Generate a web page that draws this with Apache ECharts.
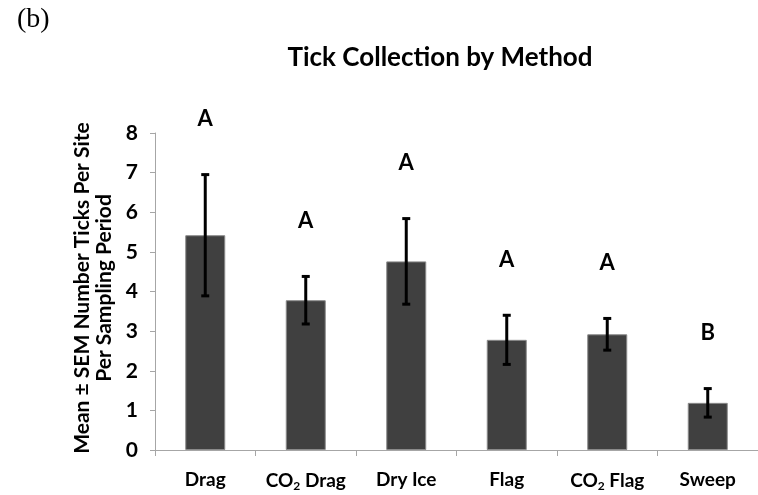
<!DOCTYPE html>
<html><head><meta charset="utf-8">
<script src="https://cdn.jsdelivr.net/npm/echarts@6/dist/echarts.min.js"></script>
<style>html,body{margin:0;padding:0;background:#fff}#c{width:758px;height:495px}</style>
</head><body><div id="c"></div>
<script>
const categories = ['Drag', 'CO2 Drag', 'Dry Ice', 'Flag', 'CO2 Flag', 'Sweep'];
const means = [5.42, 3.78, 4.76, 2.78, 2.92, 1.19];
const sem = [1.53, 0.60, 1.08, 0.62, 0.40, 0.36];
const letters = ['A', 'A', 'A', 'A', 'A', 'B'];
const yTicks = [0, 1, 2, 3, 4, 5, 6, 7, 8];

const F = 'Lato, "Open Sans", sans-serif';
const chart = echarts.init(document.getElementById('c'));

function catLabel(v) {
  if (v.indexOf('CO2') === 0) return '{n|CO}{s|2}{n|' + v.slice(3) + '}';
  return '{n|' + v + '}';
}

chart.setOption({
  animation: false,
  graphic: [
    {type: 'text', left: 17, top: 6, style: {text: '(b)', font: '28px "Liberation Serif", serif', fill: '#000'}},
    {type: 'text', x: 440, y: 58, style: {text: 'Tick Collection by Method', font: 'bold 26px ' + F, fill: '#000', textAlign: 'center', textVerticalAlign: 'middle'}},
    {type: 'text', x: 82, y: 288, rotation: Math.PI / 2, style: {text: 'Mean \u00b1 SEM Number Ticks Per Site', font: 'bold 21px ' + F, fill: '#000', textAlign: 'center', textVerticalAlign: 'middle'}},
    {type: 'text', x: 104, y: 288, rotation: Math.PI / 2, style: {text: 'Per Sampling Period', font: 'bold 21px ' + F, fill: '#000', textAlign: 'center', textVerticalAlign: 'middle'}}
  ],
  grid: {left: 155, top: 133, width: 610, height: 317},
  xAxis: {
    type: 'category', data: categories,
    axisLine: {lineStyle: {color: '#a6a6a6', width: 1}},
    axisTick: {show: true, length: 6, interval: 0, lineStyle: {color: '#a6a6a6'}},
    axisLabel: {
      interval: 0, margin: 20, formatter: catLabel,
      rich: {
        n: {fontFamily: F, fontWeight: 'bold', fontSize: 19, color: '#000'},
        s: {fontFamily: F, fontWeight: 'bold', fontSize: 12, color: '#000', verticalAlign: 'bottom', padding: [10, 0, 0, 0]}
      }
    }
  },
  yAxis: {
    type: 'value', min: 0, max: yTicks[yTicks.length - 1], interval: 1,
    axisLine: {show: true, lineStyle: {color: '#a6a6a6'}},
    axisTick: {show: true, length: 5, lineStyle: {color: '#a6a6a6'}},
    splitLine: {show: false},
    axisLabel: {fontFamily: F, fontWeight: 'bold', fontSize: 21, color: '#000', margin: 17}
  },
  series: [
    {
      type: 'bar', data: means, barWidth: 40,
      itemStyle: {color: '#404040', borderColor: '#8a8a8a', borderWidth: 1}
    },
    {
      type: 'custom',
      data: means.map((m, i) => [i, m - sem[i], m + sem[i]]),
      renderItem: function (params, api) {
        const lo = api.coord([api.value(0), api.value(1)]);
        const hi = api.coord([api.value(0), api.value(2)]);
        const x = lo[0], hw = 4;
        const st = {stroke: '#000', lineWidth: 3};
        return {type: 'group', children: [
          {type: 'line', shape: {x1: x, y1: lo[1], x2: x, y2: hi[1]}, style: st},
          {type: 'line', shape: {x1: x - hw, y1: lo[1], x2: x + hw, y2: lo[1]}, style: st},
          {type: 'line', shape: {x1: x - hw, y1: hi[1], x2: x + hw, y2: hi[1]}, style: st}
        ]};
      },
      z: 5
    },
    {
      type: 'custom', clip: false,
      data: means.map((m, i) => [i, m + sem[i] + 1.4]),
      renderItem: function (params, api) {
        const p = api.coord([api.value(0), api.value(1)]);
        return {type: 'text', x: p[0], y: p[1], style: {text: letters[params.dataIndex], font: 'bold 22px ' + F, fill: '#000', textAlign: 'center', textVerticalAlign: 'middle'}};
      },
      z: 6
    }
  ]
});
</script></body></html>
